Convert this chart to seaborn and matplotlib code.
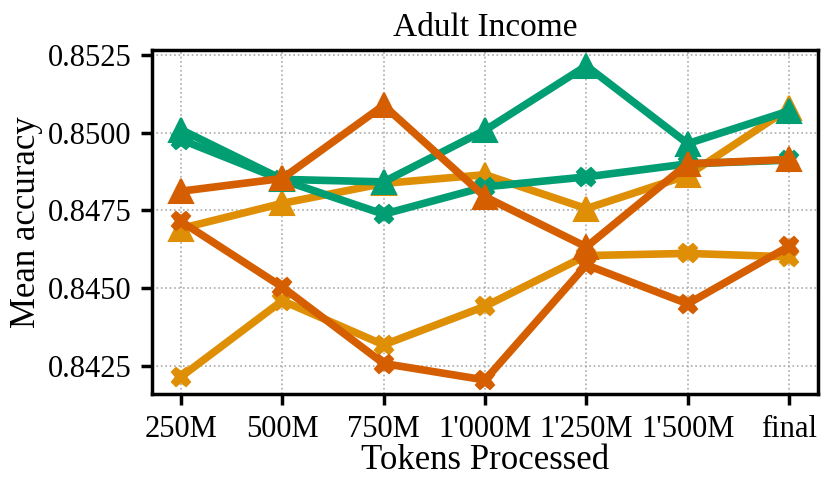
import numpy as np
import pandas as pd
import seaborn as sns
import matplotlib
matplotlib.use("Agg")
import matplotlib.pyplot as plt

# Tick labels along the x axis
checkpoints = ["250M", "500M", "750M", "1'000M", "1'250M", "1'500M", "final"]

# Series values
green_tri = [0.85010, 0.84850, 0.84842, 0.85008, 0.85215, 0.84965, 0.85070]
green_x = [0.84978, 0.84848, 0.84738, 0.84826, 0.84858, 0.84900, 0.84912]
orange_tri = [0.84692, 0.84773, 0.84837, 0.84865, 0.84756, 0.84863, 0.85078]
orange_x = [0.84215, 0.84460, 0.84318, 0.84442, 0.84605, 0.84612, 0.84601]
dark_tri = [0.84812, 0.84853, 0.85088, 0.84794, 0.84633, 0.84900, 0.84914]
dark_x = [0.84715, 0.84504, 0.84258, 0.84205, 0.84575, 0.84450, 0.84635]

sns.set_theme(style="ticks")
plt.rcParams["font.family"] = ["Liberation Serif", "DejaVu Serif"]
plt.rcParams["text.color"] = "black"
plt.rcParams["axes.labelcolor"] = "black"

pal = sns.color_palette("colorblind")
c_orange, c_green, c_dark = pal[1], pal[2], pal[3]

fig = plt.figure(figsize=(8.29, 4.92), dpi=100)
ax = fig.add_axes([0.1834, 0.1992, 0.8033, 0.6992])

xs = np.arange(len(checkpoints))
series = [
    (orange_tri, c_orange, "^"),
    (orange_x, c_orange, "X"),
    (green_tri, c_green, "^"),
    (green_x, c_green, "X"),
    (dark_tri, c_dark, "^"),
    (dark_x, c_dark, "X"),
]
for vals, col, mk in series:
    sns.lineplot(
        x=xs, y=vals, ax=ax, color=col, marker=mk, linewidth=5.5,
        markersize=17 if mk == "^" else 13, markeredgecolor=col,
        markeredgewidth=1.5, zorder=3,
    )

ax.set_xticks(xs)
ax.set_xticklabels(checkpoints)
ax.set_xlim(-0.285, 6.285)
ax.set_ylim(0.84160, 0.85266)
ax.set_yticks([0.8425, 0.8450, 0.8475, 0.8500, 0.8525])
ax.set_yticklabels(["0.8425", "0.8450", "0.8475", "0.8500", "0.8525"])

ax.grid(True, linestyle=":", color="#aaaaaa", linewidth=1.2, zorder=0)
ax.set_axisbelow(True)
for sp in ax.spines.values():
    sp.set_linewidth(2.5)
    sp.set_color("black")
ax.tick_params(axis="both", direction="out", length=8, width=2.5,
               labelsize=22, colors="black", labelcolor="black", pad=7)

ax.set_title("Adult Income", fontsize=24, pad=10, color="black")
ax.set_xlabel("Tokens Processed", fontsize=25, labelpad=0)
ax.set_ylabel("Mean accuracy", fontsize=25, labelpad=3)

fig.savefig("out.png", dpi=100)
